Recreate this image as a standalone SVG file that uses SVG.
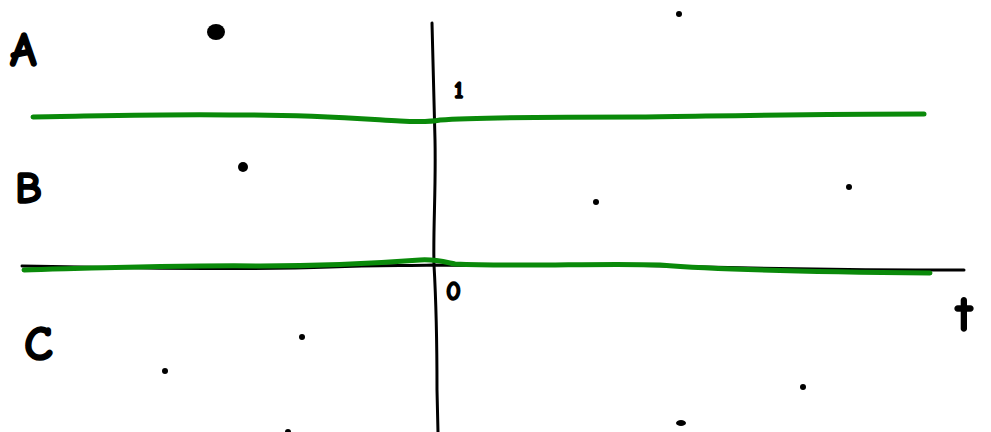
<svg xmlns="http://www.w3.org/2000/svg" width="991" height="432" viewBox="0 0 991 432">
<style>
.ax{fill:none;stroke:#000;stroke-width:3;stroke-linecap:round;stroke-linejoin:round}
.gr{fill:none;stroke:#0a8a0a;stroke-width:5;stroke-linecap:round;stroke-linejoin:round}
.lb{font-family:"Comic Neue","Liberation Sans",sans-serif;font-weight:bold;fill:#000;stroke:#000;stroke-width:1.5;stroke-linejoin:round}
.dot{fill:#000}
</style>
<rect width="991" height="432" fill="#fff"/>
<g id="axes">
<path class="ax" d="M432,23 C433,60 434,100 435,140 C436,190 433,230 434,265 C436,300 437,350 437,390 L438,432"/>
<path class="ax" d="M22,266 C120,268 250,270 330,267 C380,265 410,266 432,265 C500,266 560,265 620,265 C700,267 800,270 964,270"/>
</g>
<g id="green-lines">
<path class="gr" d="M33,117 C100,116 170,114 230,115 C300,114 350,118 400,121 C420,122 430,122 440,120 C480,117 560,117 640,117 C720,116 800,114 924,114"/>
<path class="gr" d="M24,270 C100,268 180,265 260,266 C330,266 380,263 420,260 C435,259 445,262 455,264 C520,267 600,263 660,265 C720,270 820,272 930,273"/>
</g>
<g id="labels">
<text class="lb" x="10" y="66" font-size="48">A</text>
<text class="lb" x="15" y="203" font-size="44">B</text>
<text class="lb" x="24" y="360" font-size="48">C</text>
<text class="lb" x="454" y="98" font-size="24">1</text>
<text class="lb" x="446" y="300" font-size="26">0</text>
<text class="lb" x="956" y="331" font-size="50">t</text>
</g>
<g id="dots">
<ellipse class="dot" cx="216" cy="32" rx="9" ry="8"/>
<circle class="dot" cx="679" cy="14" r="3"/>
<circle class="dot" cx="243" cy="167" r="5"/>
<circle class="dot" cx="596" cy="202" r="3"/>
<circle class="dot" cx="849" cy="187" r="3"/>
<circle class="dot" cx="302" cy="337" r="3"/>
<circle class="dot" cx="165" cy="371" r="3"/>
<circle class="dot" cx="288" cy="432" r="3"/>
<circle class="dot" cx="803" cy="387" r="3"/>
<ellipse class="dot" cx="681" cy="423" rx="5" ry="3"/>
</g>
</svg>
